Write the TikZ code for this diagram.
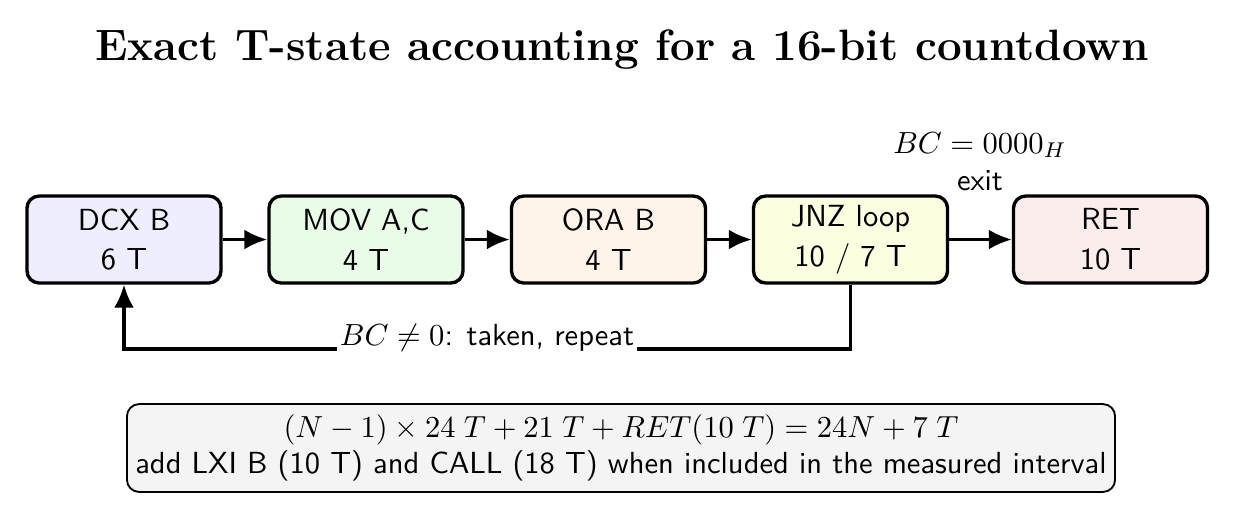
\documentclass[tikz,border=0pt]{standalone}
\usetikzlibrary{arrows.meta}
\definecolor{dcxc}{RGB}{238,238,255}
\definecolor{movc}{RGB}{232,252,232}
\definecolor{orac}{RGB}{254,244,234}
\definecolor{jnzc}{RGB}{253,253,224}
\definecolor{retc}{RGB}{252,237,237}
\definecolor{notec}{RGB}{244,244,244}
\begin{document}
\begin{tikzpicture}[x=0.3277pt,y=-0.3277pt,
  box/.style={draw, line width=1.1pt, rounded corners=4pt, minimum width=63.6pt, minimum height=28.5pt, align=center, font=\sffamily, inner sep=0pt},
  arr/.style={line width=1.1pt, -{Latex[length=7.5pt,width=6.5pt]}},
  lab/.style={font=\sffamily, inner sep=1pt}
]
\useasboundingbox (0,0) rectangle (1235,517);
\node[font=\Large\bfseries] (title) at (622,50) {Exact T-state accounting for a 16-bit countdown};
\node[box, fill=dcxc] (dcx) at (124,239.5) {DCX B\\[1pt]6 T};
\node[box, fill=movc] (mov) at (366,239.5) {MOV A,C\\[1pt]4 T};
\node[box, fill=orac] (ora) at (608.5,239.5) {ORA B\\[1pt]4 T};
\node[box, fill=jnzc] (jnz) at (850.5,239.5) {JNZ loop\\[1pt]10 / 7 T};
\node[box, fill=retc] (ret) at (1110.5,239.5) {RET\\[1pt]10 T};
\draw[arr] (dcx) -- (mov);
\draw[arr] (mov) -- (ora);
\draw[arr] (ora) -- (jnz);
\draw[arr] (jnz) -- (ret);
\node[lab] (exit) at (980,181) {exit};
\node[lab] (bc) at (980,145) {$BC = 0000_H$};
\coordinate (rb) at (850.5,349);
\coordinate (lb) at (124,349);
\draw[arr] (jnz.south) -- (rb) -- (lb) -- (dcx.south);
\node[lab, fill=white, inner ysep=4pt] (loop) at (487,338) {$BC \neq 0$: taken, repeat};
\node[draw, line width=0.6pt, rounded corners=4pt, fill=notec, font=\sffamily, align=center, minimum width=323.8pt, minimum height=28.8pt, inner sep=1pt] (note) at (621,448) {$(N-1)\times 24\;T + 21\;T + RET(10\;T) = 24N + 7\;T$\\add LXI B (10 T) and CALL (18 T) when included in the measured interval};
\end{tikzpicture}
\end{document}
